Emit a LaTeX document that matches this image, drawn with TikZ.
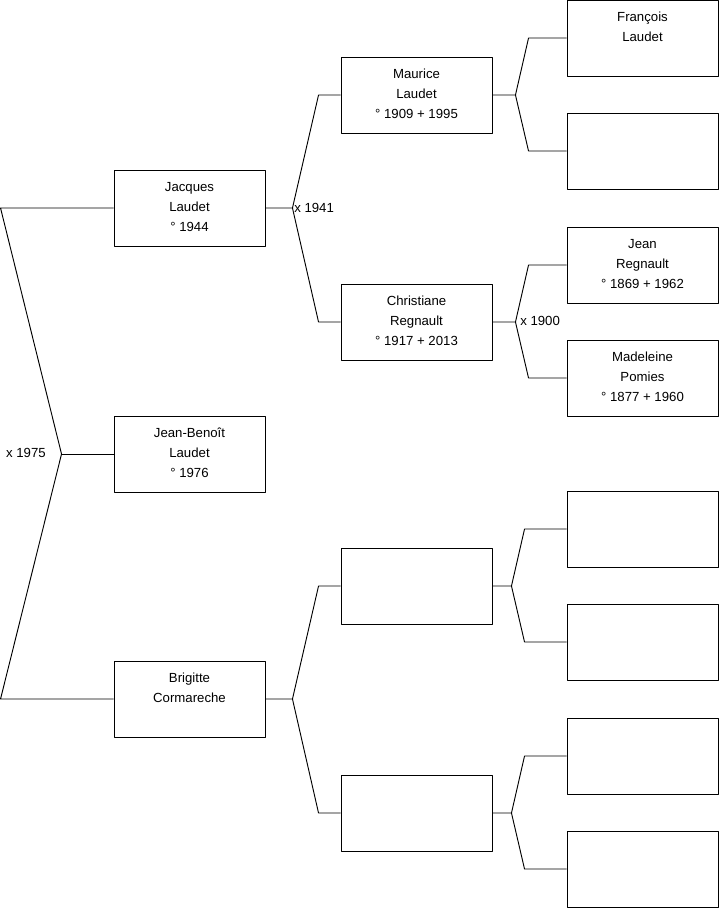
\documentclass[tikz,border=0pt]{standalone}
\usepackage{fontspec}
\setmainfont{Liberation Sans}
\usetikzlibrary{calc}
\newcommand{\who}[1]{\begin{tabular}[t]{@{}c@{}}#1\end{tabular}}
\begin{document}
\begin{tikzpicture}[x=.75pt,y=-.75pt,line join=round,line width=.7pt,
    person/.style={draw,minimum width=113.25pt,inner sep=0pt,
        text height=15.8pt,text depth=41.2pt,font=\fontsize{9.9}{15}\selectfont},
    wed/.style={inner sep=1pt,font=\fontsize{9.9}{11}\selectfont}]
    \useasboundingbox (0,0) rectangle (719,908);
    % generation 1
    \node[person] (jacques) at (189.5,208) {\who{Jacques\\Laudet\\° 1944}};
    \node[person] (jeanbenoit) at (189.5,454) {\who{Jean-Beno\^it\\Laudet\\° 1976}};
    \node[person] (brigitte) at (189.5,699) {\who{Brigitte\\Cormareche}};
    % generation 2
    \node[person] (maurice) at (416.5,95) {\who{Maurice\\Laudet\\° 1909 + 1995}};
    \node[person] (christiane) at (416.5,322) {\who{Christiane\\Regnault\\° 1917 + 2013}};
    \node[person] (b-father) at (416.5,586) {};
    \node[person] (b-mother) at (416.5,813) {};
    % generation 3
    \node[person] (francois) at (642.5,38) {\who{Fran\c{c}ois\\Laudet}};
    \node[person] (m-mother) at (642.5,151) {};
    \node[person] (jean) at (642.5,265) {\who{Jean\\Regnault\\° 1869 + 1962}};
    \node[person] (madeleine) at (642.5,378) {\who{Madeleine\\Pomies\\° 1877 + 1960}};
    \node[person] (bf-father) at (642.5,529) {};
    \node[person] (bf-mother) at (642.5,642) {};
    \node[person] (bm-father) at (642.5,756) {};
    \node[person] (bm-mother) at (642.5,869) {};
    % parents of Jean-Benoit
    \coordinate (m1975) at ($(jeanbenoit.west)+(-52,0)$);
    \draw (jeanbenoit.west) -- (m1975);
    \draw (jacques.west) -- ++(-113,0) -- (m1975) -- ($(brigitte.west)+(-113,0)$) -- (brigitte.west);
    \node[wed,anchor=east] (w1975) at ($(m1975)+(-14,-1)$) {x 1975};
    % the other couples
    \foreach \kid/\dad/\mum/\fx/\bx in {jacques/maurice/christiane/27/22,brigitte/b-father/b-mother/27/22,
        maurice/francois/m-mother/23/38,christiane/jean/madeleine/23/38,
        b-father/bf-father/bf-mother/19/42,b-mother/bm-father/bm-mother/19/42}
    \draw (\kid.east) -- ++(\fx,0) coordinate (f-\kid) -- ($(\dad.west)+(-\bx,0)$) -- (\dad.west)
        (f-\kid) -- ($(\mum.west)+(-\bx,0)$) -- (\mum.west);
    \node[wed,anchor=west] (w1941) at (f-jacques) {x 1941};
    \node[wed,anchor=west] (w1900) at ($(f-christiane)+(3,-1)$) {x 1900};
\end{tikzpicture}
\end{document}
